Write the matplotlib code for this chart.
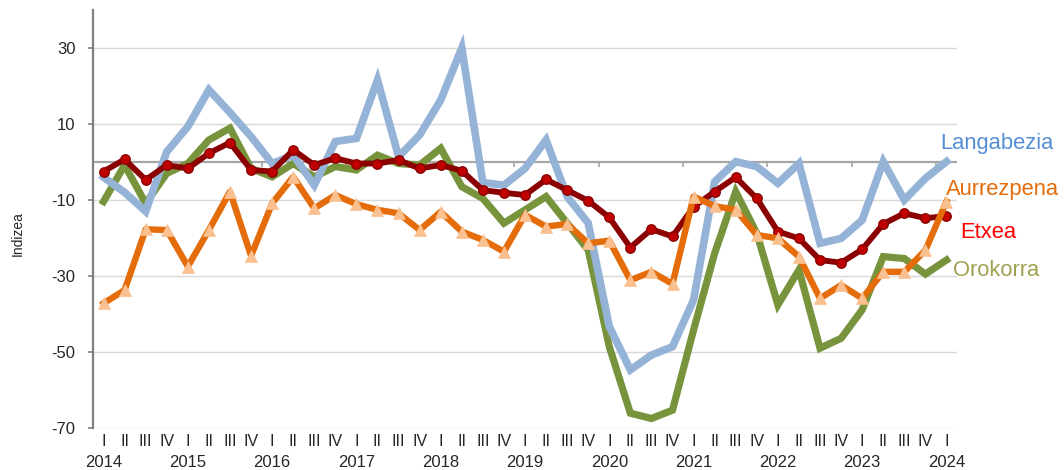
import matplotlib
matplotlib.use("Agg")
import matplotlib.pyplot as plt
import numpy as np

plt.rcParams['font.family'] = ['Liberation Sans', 'DejaVu Sans']

# ---- data ----
quarters = ['I', 'II', 'III', 'IV'] * 10 + ['I']
years = ['2014', '2015', '2016', '2017', '2018', '2019', '2020', '2021', '2022', '2023', '2024']

langabezia = [-4, -8, -13, 2.7, 9.3, 19, 13, 6.7, -0.4, 1.8,
              -6.1, 5.4, 6.2, 21.6, 1.4, 7.1, 16.3, 30, -5.4, -6.1,
              -1.7, 5.8, -9.1, -16.1, -43.3, -54.7, -50.8, -48.6, -36.3, -5.2,
              0.1, -1.2, -5.6, -0.4, -21.4, -20.1, -15.3, 0.1, -10, -4.3, 0.1]
orokorra = [-10.4, -0.8, -10.9, -3, -0.4, 5.8, 8.9, -1.7, -3.9, -0.4,
            -3.9, -1.2, -2.1, 1.8, -0.4, -0.8, 3.6, -6.5, -9.6, -16.1,
            -12.6, -9.1, -16.1, -23.2, -48.6, -66.1, -67.5, -65.3, -44.2, -24,
            -7.8, -18.8, -37.6, -28.4, -49, -46.4, -38.9, -24.9, -25.4, -29.5, -25.8]
etxea = [-2.5, 0.7, -4.7, -0.8, -1.7, 2.3, 5.1, -2.1, -2.5, 3.2,
         -0.8, 1, -0.4, -0.4, 0.5, -1.7, -0.8, -2.3, -7.4, -8.1,
         -8.7, -4.6, -7.4, -10.2, -14.6, -22.5, -17.7, -19.6, -11.8, -7.8,
         -4, -9.6, -18.3, -20.1, -25.8, -26.5, -23, -16.3, -13.5, -14.8, -14.2]
aurrezpena = [-37.2, -33.7, -17.7, -17.9, -27.5, -17.9, -7.8, -24.7, -10.9, -3.9,
              -12.2, -8.7, -11.1, -12.6, -13.5, -17.9, -13.1, -18.3, -20.5, -23.6,
              -13.9, -17, -16.3, -21.4, -20.7, -31.1, -28.9, -32.1, -9.1, -11.6,
              -12.6, -19.2, -20.1, -24.9, -35.9, -32.4, -35.9, -28.9, -28.9, -23.2, -10.4]

y_ticks = [-70, -50, -30, -10, 10, 30]

# ---- figure ----
fig = plt.figure(figsize=(10.64, 4.70), dpi=100)
ax = fig.add_axes([93 / 1064, 1 - 428 / 470, (957 - 93) / 1064, (428 - 10) / 470])

x = np.arange(len(quarters))

ax.set_xlim(-0.5, len(quarters) - 0.5)
ax.set_ylim(-70, 40)

# grid
for yv in y_ticks:
    ax.axhline(yv, color='#D9D9D9', lw=1.0, zorder=0)
ax.axhline(0, color='#A6A6A6', lw=1.6, zorder=1)
# small ticks on the zero line between years
yr_bounds = np.arange(3.5, len(quarters) - 1, 4)
ax.plot(yr_bounds, np.zeros_like(yr_bounds), ls='none', marker=3, ms=3.5,
        mew=1.2, color='#A6A6A6', zorder=1)

# series
ax.plot(x, orokorra, color='#77933C', lw=5.2, solid_joinstyle='miter', zorder=3)
ax.plot(x, langabezia, color='#95B3D7', lw=5.5, solid_joinstyle='miter', zorder=4)
ax.plot(x, etxea, color='#8B0000', lw=4.2, marker='o', ms=6.8,
        mfc='#C00000', mec='#8B0000', mew=1.0, zorder=5)
ax.plot(x, aurrezpena, color='#E46C0A', lw=4.6, marker='^', ms=8.5,
        mfc='#FAC090', mec='#FAC090', mew=0.5, zorder=6)

# axes styling
for s in ['top', 'right', 'bottom']:
    ax.spines[s].set_visible(False)
ax.spines['left'].set_color('#808080')
ax.spines['left'].set_linewidth(1.6)

ax.set_yticks(y_ticks)
ax.set_yticklabels([str(v) for v in y_ticks])
ax.tick_params(axis='y', direction='out', length=3.6, width=1.2, color='#808080',
               pad=9, labelsize=12, labelcolor='#262626')

ax.set_xticks(x)
ax.set_xticklabels(quarters)
ax.tick_params(axis='x', length=0, pad=4, labelsize=11.5, labelcolor='#262626')

for i, yr in enumerate(years):
    ax.annotate(yr, xy=(i * 4, 0), xycoords=('data', 'axes fraction'),
                xytext=(0, -24.5), textcoords='offset points',
                ha='center', va='center', fontsize=12, color='#262626',
                annotation_clip=False)

fig.text(18 / 1064, 1 - 234 / 470, 'Indizea', rotation=90, ha='center', va='center',
         fontsize=10, color='#262626')

# series labels at right
labels = [('Langabezia', '#558ED5', 940, 143),
          ('Aurrezpena', '#E46C0A', 946, 190),
          ('Etxea', '#FF0000', 960, 232),
          ('Orokorra', '#A0A050', 953, 271)]
for txt, col, px, py in labels:
    fig.text(px / 1064, 1 - py / 470, txt, ha='left', va='center',
             fontsize=15.8, color=col)

fig.savefig('out.png', dpi=100)
